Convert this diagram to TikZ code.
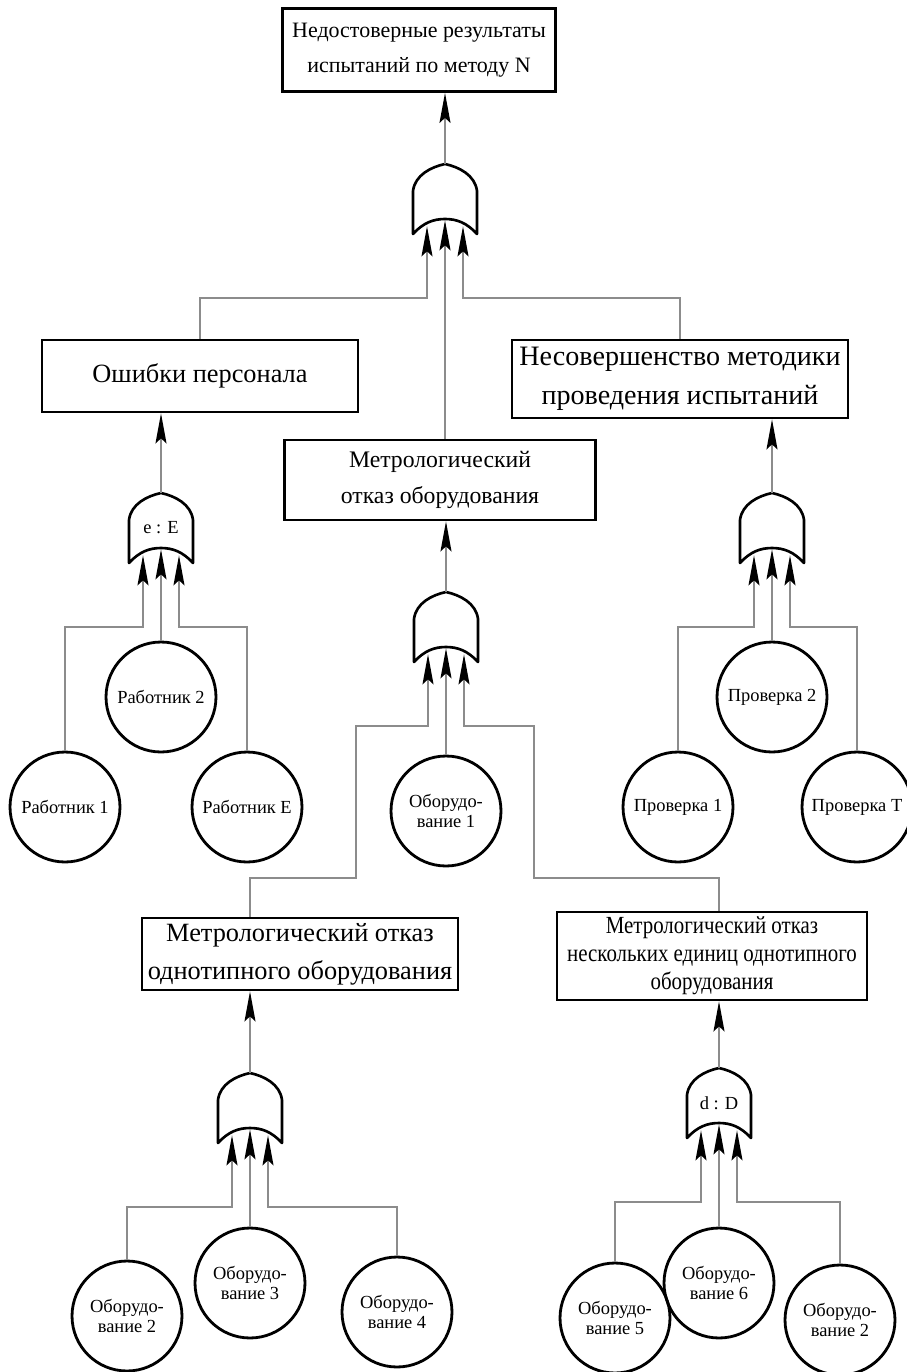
\documentclass[tikz,border=0pt]{standalone}
\usepackage{fontspec}
\setmainfont{Liberation Serif}
\newfontfamily\narrowserif[FakeStretch=0.85]{Liberation Serif}
\usetikzlibrary{arrows.meta}

\begin{document}
\begin{tikzpicture}[x=0.02cm, y=-0.02cm,
				box/.style={draw, line width=1.6pt, align=center, inner sep=2pt},
				event/.style={draw, circle, line width=1.6pt, minimum size=2.2cm, inner sep=0pt, align=center, font=\fontsize{10.5}{11.5}\selectfont},
				gate/.style={inner sep=0pt, minimum width=1.28cm, minimum height=1.4cm, font=\fontsize{10.5}{12}\selectfont},
				conn/.style={draw=black!45, line width=1pt},
				arr/.style={conn, -{Stealth[length=6mm, width=2.2mm, inset=1mm, color=black, fill=black]}},
				orgate/.pic={\draw[line width=1.5pt, line join=round] (-32,35) -- (-32,-8)
					.. controls (-30,-24) and (-14,-32) .. (0,-35)
					.. controls (14,-32) and (30,-24) .. (32,-8) -- (32,35)
					.. controls (22,24) and (12,20) .. (0,20)
					.. controls (-12,20) and (-22,24) .. cycle;}]
			\useasboundingbox (0,0) rectangle (906,1372);
			% events (boxes)
			\node [box, minimum width=5.46cm, minimum height=1.66cm, font=\fontsize{12.5}{20}\selectfont] (top) at (419,50) {Недостоверные результаты\\испытаний по методу N};
			\node [box, minimum width=6.32cm, minimum height=1.44cm, font=\fontsize{15}{18}\selectfont] (err) at (200,376) {Ошибки персонала};
			\node [box, minimum width=6.72cm, minimum height=1.56cm, font=\fontsize{16}{22}\selectfont] (meth) at (680,379) {Несовершенство методики\\проведения испытаний};
			\node [box, minimum width=6.22cm, minimum height=1.6cm, font=\fontsize{13.5}{20}\selectfont] (eqf) at (440,480) {Метрологический\\отказ оборудования};
			\node [box, minimum width=6.32cm, minimum height=1.44cm, font=\fontsize{15}{21.5}\selectfont] (same) at (300,954) {Метрологический отказ\\однотипного оборудования};
			\node [box, minimum width=6.2cm, minimum height=1.76cm, font=\narrowserif\fontsize{14}{16}\selectfont] (multi) at (712,956) {Метрологический отказ\\нескольких единиц однотипного\\оборудования};
			% gates
			\node [gate] (g1) at (445,199) {};
			\node [gate] (g2) at (161,528) {e : E};
			\node [gate] (g3) at (772,528) {};
			\node [gate] (g4) at (446,627) {};
			\node [gate] (g5) at (250,1108) {};
			\node [gate] (g6) at (719,1103) {d : D};
			\foreach \g in {g1,g2,g3,g4,g5,g6}
				\pic at (\g) {orgate};
			% basic events
			\node [event] (w1) at (65,807) {Работник 1};
			\node [event] (w2) at (161,697) {Работник 2};
			\node [event] (wE) at (247,807) {Работник E};
			\node [event] (p1) at (678,807) {Проверка 1};
			\node [event] (p2) at (772,697) {Проверка 2};
			\node [event] (pT) at (857,807) {Проверка T};
			\node [event] (eq1) at (446,811) {Оборудо-\\вание 1};
			\node [event] (eq2) at (127,1316) {Оборудо-\\вание 2};
			\node [event] (eq3) at (250,1283) {Оборудо-\\вание 3};
			\node [event] (eq4) at (397,1312) {Оборудо-\\вание 4};
			\node [event] (eq5) at (615,1318) {Оборудо-\\вание 5};
			\node [event] (eq6) at (719,1283) {Оборудо-\\вание 6};
			\node [event] (eq7) at (840,1320) {Оборудо-\\вание 2};
			\coordinate (bendL) at (356,878);
			\coordinate (bendR) at (534,878);
			% gate outputs
			\draw[arr] (g1.north) -- (g1.north |- top.south);
			\draw[arr] (g2.north) -- (g2.north |- err.south);
			\draw[arr] (g3.north) -- (g3.north |- meth.south);
			\draw[arr] (g4.north) -- (g4.north |- eqf.south);
			\draw[arr] (g5.north) -- (g5.north |- same.south);
			\draw[arr] (g6.north) -- (g6.north |- multi.south);
			% gate inputs
			\draw[arr] (err.north) |- ([shift={(-18,64)}]g1.south) -- ([shift={(-18,-8)}]g1.south);
			\draw[arr] (g1.south |- eqf.north) -- ([shift={(0,-14)}]g1.south);
			\draw[arr] (meth.north) |- ([shift={(18,64)}]g1.south) -- ([shift={(18,-8)}]g1.south);
			\draw[arr] (g5.north |- same.north) |- (bendL) |- ([shift={(-18,64)}]g4.south) -- ([shift={(-18,-8)}]g4.south);
			\draw[arr] (eq1.north) -- ([shift={(0,-14)}]g4.south);
			\draw[arr] (g6.north |- multi.north) |- (bendR) |- ([shift={(18,64)}]g4.south) -- ([shift={(18,-8)}]g4.south);
			\foreach \l/\m/\r/\g in {w1/w2/wE/g2, p1/p2/pT/g3, eq2/eq3/eq4/g5, eq5/eq6/eq7/g6} {
				\draw[arr] (\l.north) |- ([shift={(-18,64)}]\g.south) -- ([shift={(-18,-8)}]\g.south);
				\draw[arr] (\m.north) -- ([shift={(0,-14)}]\g.south);
				\draw[arr] (\r.north) |- ([shift={(18,64)}]\g.south) -- ([shift={(18,-8)}]\g.south);
			}
		\end{tikzpicture}
\end{document}
